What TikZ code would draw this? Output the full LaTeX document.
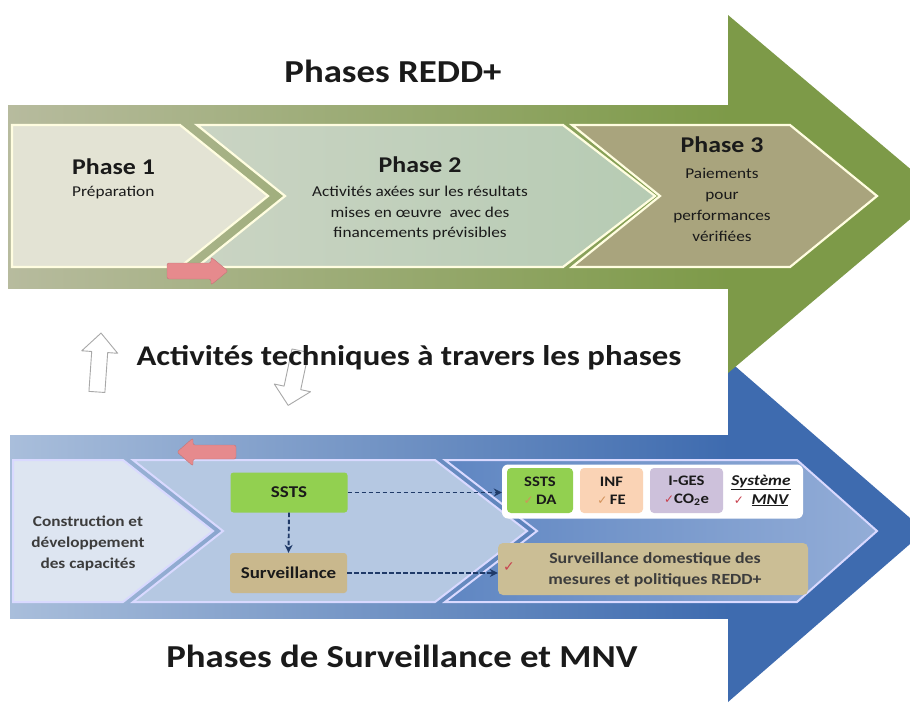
\documentclass[tikz,border=0pt]{standalone}
\usepackage{fontspec}
\setmainfont[FakeStretch=1.15]{Carlito}
\newfontfamily\symf{DejaVu Sans}
\usetikzlibrary{arrows.meta,calc}
\definecolor{gArrow}{HTML}{7D9A48}
\definecolor{gShaftL}{HTML}{B7BB9E}
\definecolor{ph1}{HTML}{E3E3D4}
\definecolor{ph2}{HTML}{B6CBB3}
\definecolor{ph2L}{HTML}{CAD4C3}
\definecolor{ph3}{HTML}{A9A47D}
\definecolor{bArrow}{HTML}{3E6BAF}
\definecolor{bShaftL}{HTML}{A9BEDB}
\definecolor{bc1}{HTML}{DDE5F1}
\definecolor{bc2}{HTML}{B5C8E2}
\definecolor{bc3L}{HTML}{5F86C2}
\definecolor{bc3R}{HTML}{93ADD7}
\definecolor{sstsG}{HTML}{92D050}
\definecolor{infO}{HTML}{FAD3B5}
\definecolor{gesV}{HTML}{CDC1DB}
\definecolor{tanB}{HTML}{CBBE95}
\definecolor{tanS}{HTML}{C9B88D}
\definecolor{pinkA}{HTML}{E68A8D}
\definecolor{navy}{HTML}{1F3A68}
\definecolor{chkR}{HTML}{C8424F}
\definecolor{chkO}{HTML}{D2925A}
\definecolor{txtD}{HTML}{1A1A1A}
\definecolor{hollow}{HTML}{A8A8A8}
\tikzset{
  bigtitle/.style={font=\fontsize{32}{38}\selectfont\bfseries, text=txtD, inner sep=0pt, anchor=base},
  midtitle/.style={font=\fontsize{28.5}{34}\selectfont\bfseries, text=txtD, inner sep=0pt, anchor=base},
  phasehead/.style={font=\fontsize{22.5}{26}\selectfont\bfseries, text=txtD, inner sep=0pt, anchor=base},
  phasetxt/.style={font=\fontsize{15}{20.8}\selectfont, text=txtD, inner sep=0pt, align=center},
  bluetxt/.style={font=\fontsize{15}{21}\selectfont\bfseries, text=txtD!85, inner sep=0pt, align=center},
  phasebox/.style={draw=white!88!yellow, line width=2.2pt, line join=miter},
  chevbox/.style={draw=white!85!blue, line width=2pt, line join=miter},
  smallbox/.style={rounded corners=4pt, inner sep=0pt, align=center, font=\fontsize{14.5}{18}\selectfont\bfseries, text=txtD},
  leftbox/.style={rounded corners=3pt, inner sep=0pt, align=center, font=\fontsize{16.5}{20}\selectfont\bfseries, text=txtD, minimum width=117pt, minimum height=40pt},
  conn/.style={draw=navy, line width=1.9pt, dash pattern=on 4.5pt off 2.5pt, -{Stealth[length=8pt,width=8pt]}},
  pinkarrow/.style={fill=pinkA, draw=pinkA!85!black, line width=0.4pt, rounded corners=2pt},
  hollowarrow/.style={draw=hollow, fill=white, line width=0.9pt, line join=round},
}
\newcommand{\chk}[1]{{\color{#1}\symf\fontsize{12}{12}\selectfont ✓}}
\begin{document}
\begin{tikzpicture}[x=1pt,y=-1pt]
\useasboundingbox (0,0) rectangle (910,705);
\fill[white] (0,0) rectangle (910,705);

% ---------- blue arrow (drawn first, under green) ----------
\fill[bArrow] (728,360) -- (925,531) -- (728,702) -- cycle;
\shade[left color=bShaftL, right color=bArrow] (10,435) rectangle (729,618);

% blue chevrons
\filldraw[chevbox, fill=bc1] (13,460) -- (123,460) -- (213,531) -- (123,602) -- (13,602) -- cycle;
\filldraw[chevbox, fill=bc2] (133,460) -- (435,460) -- (527,531) -- (435,602) -- (133,602) -- (223,531) -- cycle;
\shade[left color=bc3L, right color=bc3R] (445,460) -- (797,460) -- (877,531) -- (797,602) -- (445,602) -- (537,531) -- cycle;
\draw[chevbox] (445,460) -- (797,460) -- (877,531) -- (797,602) -- (445,602) -- (537,531) -- cycle;

% ---------- green arrow ----------
\fill[gArrow] (728,15) -- (940,194) -- (728,373) -- cycle;
\shade[left color=gShaftL, right color=gArrow] (8,105) rectangle (729,288);

% green phases
\filldraw[phasebox, fill=ph1] (12,125) -- (180,125) -- (268,196) -- (180,267) -- (12,267) -- cycle;
\shade[left color=ph2L, right color=ph2] (197,125) -- (563,125) -- (655,196) -- (563,267) -- (197,267) -- (285,196) -- cycle;
\draw[phasebox] (197,125) -- (563,125) -- (655,196) -- (563,267) -- (197,267) -- (285,196) -- cycle;
\filldraw[phasebox, fill=ph3] (572,125) -- (790,125) -- (877,196) -- (790,267) -- (572,267) -- (660,196) -- cycle;

% pink arrows
\draw[pinkarrow] (167,263) -- (211,263) -- (211,257) -- (228,271) -- (211,285) -- (211,279) -- (167,279) -- cycle;
\draw[pinkarrow] (236,445) -- (193,445) -- (193,438) -- (177,452) -- (193,466) -- (193,459) -- (236,459) -- cycle;

% hollow arrows
\draw[hollowarrow, rotate around={-4:(99,362)}] (91,392) -- (91,352) -- (81,352) -- (99,333) -- (117,352) -- (107,352) -- (107,392) -- cycle;
\draw[hollowarrow, rotate around={-12:(294,378)}] (286,350) -- (286,388) -- (276,388) -- (294,406) -- (313,388) -- (303,388) -- (303,350) -- cycle;

% ---------- titles ----------
\node[bigtitle] (t1) at (393,82) {Phases REDD+};
\node[midtitle] (t2) at (409,365) {Activités techniques à travers les phases};
\node[bigtitle] (t3) at (402,667) {Phases de Surveillance et MNV};

% ---------- phase texts ----------
\node[phasehead, anchor=base west] (p1h) at (72,174) {Phase 1};
\node[phasetxt, anchor=base west] (p1s) at (72,196) {Préparation};
\node[phasehead] (p2h) at (420,172) {Phase 2};
\node[phasetxt] (p2s) at (420,213) {Activités axées sur les résultats\\mises en œuvre\ \ avec des\\financements prévisibles};
\node[phasehead] (p3h) at (722,152) {Phase 3};
\node[phasetxt] (p3s) at (722,205) {Paiements\\pour\\performances\\vérifiées};

% ---------- blue section ----------
\node[bluetxt] (cap) at (88,543) {Construction et\\développement\\des capacités};

\node[leftbox, fill=sstsG] (sstsL) at (289,492.5) {SSTS};
\node[leftbox, fill=tanS] (surv) at (288.5,573) {Surveillance};

\node[fill=white, rounded corners=6pt, minimum width=301pt, minimum height=54pt, inner sep=0pt] (wbox) at (652.5,491.5) {};
\node[smallbox, fill=sstsG, minimum width=66pt, minimum height=45pt] (ssts2) at (540,490.5) {SSTS\\\chk{chkO}\,DA};
\node[smallbox, fill=infO, minimum width=63pt, minimum height=45pt] (inf) at (611.5,490.5) {INF\\\chk{chkO}\,FE};
\node[smallbox, fill=gesV, minimum width=73pt, minimum height=45pt] (ges) at (686.5,490.5) {I-GES\\\chk{chkR}CO\textsubscript{2}e};
\node[smallbox, font=\fontsize{15}{19}\selectfont\bfseries\itshape] (mnv) at (761,490.5) {\underline{Système}\\\chk{chkR}\ \ \underline{MNV}};

\node[fill=tanB, rounded corners=5pt, minimum width=310pt, minimum height=52pt, inner sep=0pt] (dom) at (653,569) {};
\node[bluetxt, font=\fontsize{15.5}{21}\selectfont\bfseries] (domt) at (655,570) {Surveillance domestique des\\mesures et politiques REDD+};
\node[inner sep=0pt, font=\fontsize{14}{14}\selectfont] (chk5) at (509,567) {\color{chkR}\symf ✓};

% connectors
\draw[conn] (sstsL.east) -- (sstsL.east -| wbox.west);
\draw[conn] (sstsL.south) -- (surv.north);
\draw[conn] (surv.east) -- (surv.east -| dom.west);
\end{tikzpicture}
\end{document}
